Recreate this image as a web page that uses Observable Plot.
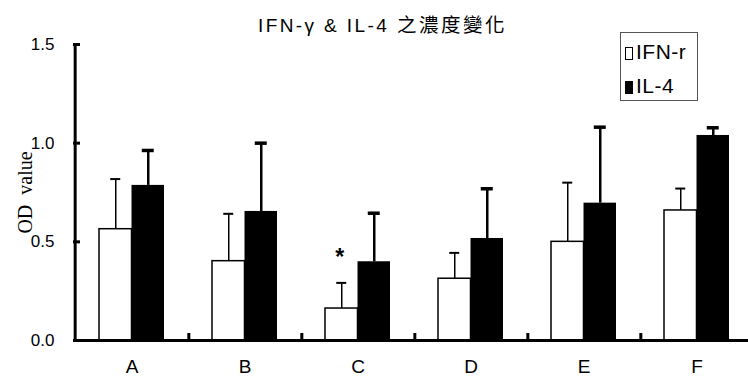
<!DOCTYPE html>
<html><head><meta charset="utf-8">
<script src="https://cdn.jsdelivr.net/npm/d3@7"></script>
<script src="https://cdn.jsdelivr.net/npm/@observablehq/plot@0.6"></script>
<style>
body{margin:0;background:#fff;}
#wrap{position:relative;width:748px;height:387px;}
#legend{position:absolute;left:620px;top:32px;width:76px;height:67px;border:1px solid #555;background:#fff;
 font-family:"Liberation Sans",Arial,sans-serif;font-size:21px;letter-spacing:0.5px;color:#000;}
.row{position:absolute;left:4px;height:22px;line-height:22px;white-space:nowrap;}
.sw{display:inline-block;width:8px;height:13px;border:1.5px solid #000;box-sizing:border-box;margin-right:3px;vertical-align:-1px;}
#title{position:absolute;top:12px;left:258px;white-space:nowrap;font-size:19px;color:#000;line-height:24px;}
#title .lat{font-family:"Liberation Sans",Arial,sans-serif;letter-spacing:2.4px;}
#title .cjk{font-family:"Noto Sans CJK TC",sans-serif;letter-spacing:2.5px;font-size:19.5px;}
</style></head>
<body><div id="wrap"></div>
<script>
const categories = ["A","B","C","D","E","F"];
const ifnMean = [0.564,0.402,0.162,0.313,0.500,0.659];
const ifnSD   = [0.254,0.240,0.130,0.131,0.300,0.111];
const il4Mean = [0.786,0.654,0.399,0.517,0.696,1.039];
const il4SD   = [0.177,0.346,0.246,0.252,0.385,0.039];
const yTicks = [0,0.5,1.0,1.5];
const seriesNames = ["IFN-r","IL-4"];
const titleLatin = "IFN-γ & IL-4 ";
const titleCJK = "之濃度變化";
const yLabel = "OD  value";
const starCat = "C", starY = 0.43;

const ifn = categories.map((c,i)=>({cat:c, v:ifnMean[i], top:ifnMean[i]+ifnSD[i]}));
const il4 = categories.map((c,i)=>({cat:c, v:il4Mean[i], top:il4Mean[i]+il4SD[i]}));

const W=748,H=387,mL=73,mT=44,mB=47;
const r0=73,r1=755,pi=0.428;
const step=(r1-r0)/categories.length, bw=step*(1-pi);
const frameW=W-mL, frameH=H-mT-mB;

const chart = Plot.plot({
  width:W,height:H,marginLeft:mL,marginRight:0,marginTop:mT,marginBottom:mB,
  style:{fontFamily:"Liberation Sans, Arial, sans-serif",background:"#fff",overflow:"visible"},
  x:{domain:categories,range:[r0,r1],paddingInner:pi,paddingOuter:pi/2,axis:null},
  y:{domain:[0,1.5],axis:null},
  marks:[
    Plot.barY(ifn,{x:"cat",y:"v",fill:"white",stroke:"black",strokeWidth:1.5,insetRight:bw/2}),
    Plot.barY(il4,{x:"cat",y:"v",fill:"black",insetLeft:bw/2}),
    Plot.ruleX(ifn,{x:"cat",y1:"v",y2:"top",dx:-bw/4,stroke:"black",strokeWidth:1.5}),
    Plot.ruleX(il4,{x:"cat",y1:"v",y2:"top",dx:bw/4,stroke:"black",strokeWidth:2.5}),
    Plot.tickY(ifn,{x:"cat",y:"top",insetLeft:bw/4-5,insetRight:3*bw/4-5,stroke:"black",strokeWidth:2}),
    Plot.tickY(il4,{x:"cat",y:"top",insetLeft:3*bw/4-6,insetRight:bw/4-6,stroke:"black",strokeWidth:3.5}),
    Plot.text([starCat],{x:d=>d,y:[starY],text:["*"],dx:-bw/4-2,dy:2,fontSize:23,fontWeight:"bold",fill:"black"}),
    // axes
    Plot.ruleY([0],{stroke:"black",strokeWidth:3}),
    Plot.ruleX([categories[0]],{x:d=>d,dx:-step/2,y1:0,y2:1.5,stroke:"black",strokeWidth:3}),
    Plot.ruleY(yTicks,{y:d=>d,insetRight:frameW-7,stroke:"black",strokeWidth:3}),
    Plot.ruleX(categories.slice(0,-1),{x:d=>d,dx:step/2,insetTop:frameH-7,stroke:"black",strokeWidth:3}),
    Plot.text(yTicks,{y:d=>d,text:d=>d.toFixed(1),frameAnchor:"left",textAnchor:"end",dx:-19,fontSize:17,fill:"black",
      style:"letter-spacing:-2.5px"}),
    Plot.text(categories,{x:d=>d,text:d=>d,frameAnchor:"bottom",dy:32,fontSize:19,fill:"black"}),
    Plot.text([yLabel],{frameAnchor:"left",rotate:-90,textAnchor:"middle",dx:-48,dy:0,fontSize:20,fill:"black",
      fontFamily:"Liberation Serif, Times New Roman, serif"})
  ]
});
const wrap=document.getElementById("wrap");
wrap.appendChild(chart);
const t=document.createElement("div");t.id="title";
t.innerHTML=`<span class="lat">${titleLatin}</span><span class="cjk">${titleCJK}</span>`;
wrap.appendChild(t);
const lg=document.createElement("div");lg.id="legend";
lg.innerHTML=`<div class="row" style="top:8px"><span class="sw" style="background:#fff"></span>${seriesNames[0]}</div>
<div class="row" style="top:42px"><span class="sw" style="background:#000"></span>${seriesNames[1]}</div>`;
wrap.appendChild(lg);
</script></body></html>
